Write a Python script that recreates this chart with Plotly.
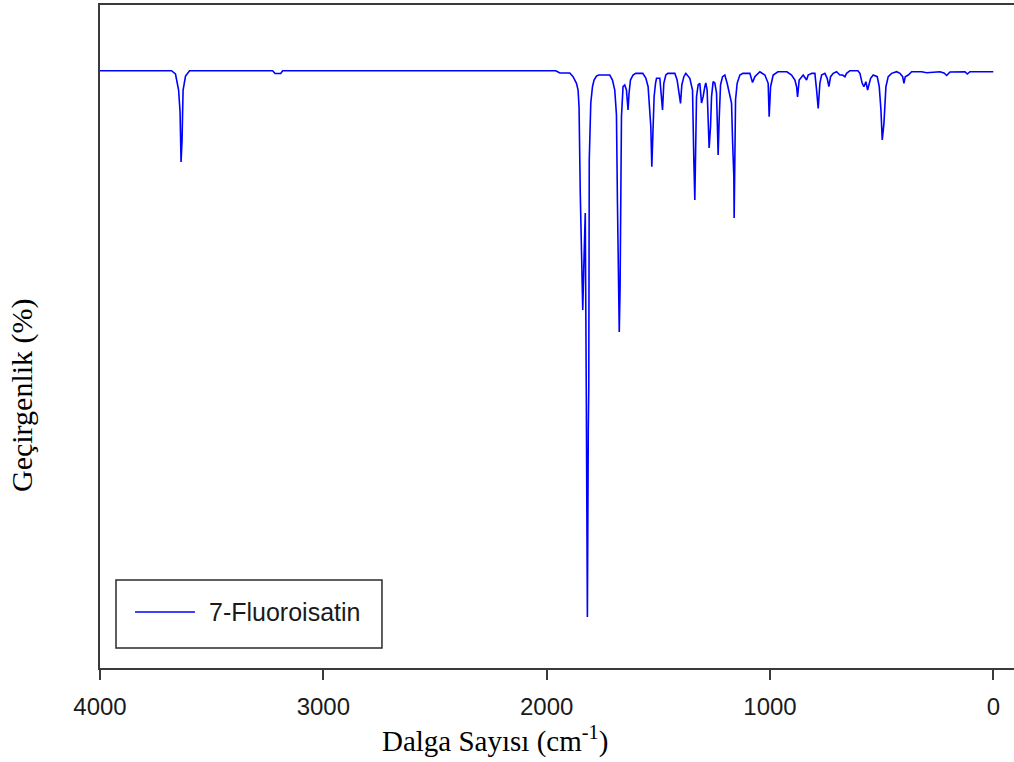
import plotly.graph_objects as go

# Spectrum (wavenumber in cm-1, transmittance in %)
wavenumber = [
    4000, 3680, 3662, 3648, 3641.5, 3637, 3632.6, 3628, 3617, 3599,
    3227, 3216, 3191, 3182,
    2031, 1959, 1941, 1896.5, 1881.7, 1866.5, 1859.3, 1854.9, 1849.5, 1842.8,
    1838.3, 1833.8, 1827.1, 1822.6, 1817.6, 1813.6, 1811.4, 1809.2, 1802.4, 1794.8,
    1787.7, 1777.0, 1766.6, 1717.4, 1705.3, 1695.0, 1687.4, 1682.9, 1677.1, 1674.9,
    1671.3, 1668.2, 1665.0, 1657.9, 1650.3, 1642.7, 1635.5, 1631.0, 1624.7, 1613.1,
    1601.2, 1569.3, 1556.0, 1545.7, 1538.0, 1533.6, 1529.1, 1523.2, 1518.8, 1512.5,
    1508.0, 1493.2, 1485.6, 1481.1, 1475.3, 1466.4, 1457.4, 1426.0, 1415.8, 1406.8,
    1400.5, 1394.7, 1385.7, 1376.8, 1358.9, 1346.8, 1344.1, 1341.0, 1336.5, 1332.0,
    1328.9, 1321.7, 1314.1, 1306.5, 1299.3, 1291.7, 1287.3, 1281.4, 1276.9, 1272.4,
    1266.2, 1261.7, 1254.5, 1246.9, 1239.3, 1234.8, 1232.1, 1227.6, 1221.4, 1212.4,
    1202.1, 1191.8, 1182.9, 1172.1, 1167.6, 1161.8, 1160.4, 1154.2, 1147.0, 1134.9,
    1121.5, 1090.1, 1078.0, 1067.7, 1045.2, 1022.8, 1008.1, 1003.6, 997.3, 985.6,
    964.6, 924.3, 903.2, 888.4, 880.8, 876.4, 869.2, 851.3, 836.0, 828.9,
    812.3, 798.9, 791.3, 784.1, 776.5, 768.9, 754.1, 743.8, 736.2, 728.6,
    716.9, 701.7, 686.9, 674.8, 664.5, 656.9, 642.1, 606.3, 597.3, 587.0,
    579.4, 570.4, 562.8, 556.9, 549.3, 537.6, 519.7, 510.7, 503.1, 497.3,
    489.7, 480.8, 470.5, 455.2, 432.8, 418.0, 405.9, 400.1, 394.3, 380.8,
    365.6, 320.8, 298.4, 238.8, 220.9, 208.8, 193.9, 126.7, 116.5, 104.4,
    0,
]
transmittance = [
    100, 100, 99.45, 96.77, 93.09, 84.71, 88.40, 96.77, 99.11, 100,
    100, 99.53, 99.53, 100,
    100, 100, 99.61, 99.61, 99.0, 97.89, 96.77, 93.97, 79.52, 63.28,
    59.94, 66.97, 76.18, 46.71, 8.54, 39.85, 46.71, 85.05, 94.59, 97.32,
    98.44, 99.11, 99.28, 99.28, 98.44, 96.77, 92.58, 77.68, 62.78, 56.25,
    63.28, 78.35, 92.30, 97.32, 97.61, 96.77, 93.42, 96.22, 98.44, 99.28,
    99.56, 99.56, 98.78, 97.32, 93.42, 90.62, 83.93, 91.75, 95.65, 97.89,
    98.73, 98.73, 95.65, 93.42, 97.89, 99.28, 99.56, 99.56, 98.44, 96.22,
    94.54, 97.61, 99.0, 99.56, 98.73, 96.77, 86.72, 85.05, 78.35, 86.72,
    95.65, 97.61, 97.89, 94.59, 95.65, 97.32, 97.94, 96.77, 91.75, 87.06,
    90.62, 95.65, 98.16, 97.94, 96.27, 91.75, 85.89, 91.75, 97.61, 99.0,
    99.28, 97.89, 96.22, 94.59, 88.40, 82.25, 75.34, 95.09, 97.89, 99.28,
    99.56, 99.56, 98.02, 99.0, 99.83, 99.28, 97.89, 92.30, 97.32, 99.28,
    99.83, 99.83, 99.28, 98.44, 97.32, 95.60, 98.44, 99.28, 98.44, 99.28,
    99.56, 99.56, 96.77, 93.70, 97.89, 99.28, 99.56, 98.73, 97.32, 99.0,
    99.56, 99.83, 99.28, 99.28, 99.0, 99.56, 100.0, 100.0, 99.56, 97.89,
    97.32, 98.16, 96.77, 97.89, 98.73, 99.28, 99.0, 97.32, 93.42, 88.40,
    91.19, 97.32, 99.0, 99.56, 99.83, 99.56, 99.0, 97.89, 99.0, 99.28,
    99.83, 99.83, 99.66, 99.83, 99.61, 99.20, 99.78, 99.83, 99.45, 99.83,
    99.83,
]

series_name = "7-Fluoroisatin"
x_ticks = [4000, 3000, 2000, 1000, 0]
x_title = "Dalga Sayısı (cm<sup>-1</sup>)"
y_title = "Geçirgenlik (%)"

axis_color = "#3a3a3a"

fig = go.Figure()
fig.add_trace(go.Scatter(
    x=wavenumber, y=transmittance, mode="lines", name=series_name,
    line=dict(color="#0000ff", width=1.6), showlegend=False,
))

fig.update_layout(
    width=1014, height=762,
    margin=dict(l=100, r=0, t=5, b=94),
    paper_bgcolor="white", plot_bgcolor="white",
    xaxis=dict(
        range=[4000, -92.7], tickvals=x_ticks, ticktext=[str(v) for v in x_ticks],
        showline=True, mirror=True, linecolor=axis_color, linewidth=2,
        ticks="outside", ticklen=10, tickwidth=1.5, tickcolor=axis_color,
        ticklabelstandoff=6,
        showgrid=False, zeroline=False,
        tickfont=dict(family="Liberation Sans, Arial", size=24, color="#1a1a1a"),
    ),
    yaxis=dict(
        range=[0, 111.0], showline=True, linecolor=axis_color, linewidth=2,
        showticklabels=False, ticks="", showgrid=False, zeroline=False,
    ),
    shapes=[
        dict(type="rect", xref="paper", yref="paper",
             x0=0.0175, x1=0.3085, y0=0.0302, y1=0.1327,
             line=dict(color="#2a2a2a", width=1.5), fillcolor="rgba(0,0,0,0)"),
        dict(type="line", xref="paper", yref="paper",
             x0=0.0383, x1=0.1039, y0=0.0845, y1=0.0845,
             line=dict(color="#0000ff", width=1.5)),
    ],
    annotations=[
        dict(text=series_name, xref="paper", yref="paper", x=0.1171, y=0.0845,
             xanchor="left", yanchor="middle", showarrow=False,
             font=dict(family="Liberation Sans, Arial", size=25, color="#1a1a1a")),
        dict(text=x_title, xref="paper", yref="paper", x=0.432, y=-0.108,
             xanchor="center", yanchor="middle", showarrow=False,
             font=dict(family="Liberation Serif, Times New Roman", size=29, color="black")),
        dict(text=y_title, xref="paper", yref="paper", x=-0.0853, y=0.4118,
             xanchor="center", yanchor="middle", showarrow=False, textangle=-90,
             font=dict(family="Liberation Serif, Times New Roman", size=30, color="black")),
    ],
)

fig.write_html("out.html")
